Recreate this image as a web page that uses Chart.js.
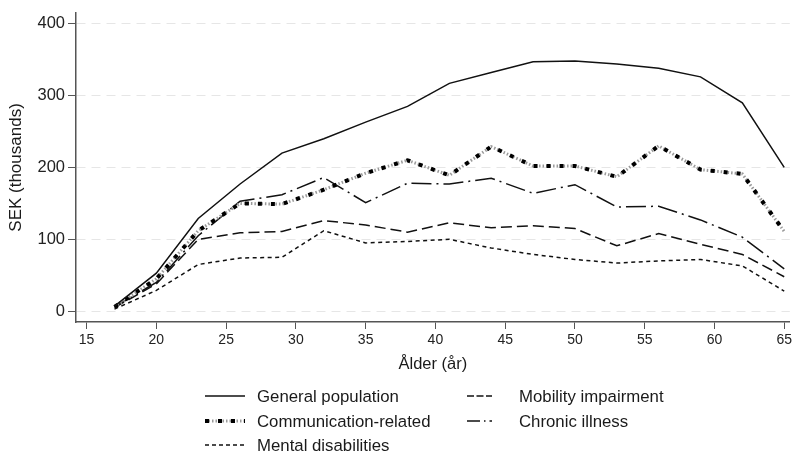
<!DOCTYPE html>
<html>
<head>
<meta charset="utf-8">
<script src="https://cdn.jsdelivr.net/npm/chart.js@4/dist/chart.umd.min.js"></script>
<style>
  html, body { margin: 0; padding: 0; background: #fff; }
  #wrap { width: 795px; height: 458px; }
</style>
</head>
<body>
<div id="wrap"><canvas id="incomeChart"></canvas></div>
<script>
const ages = [17, 20, 23, 26, 29, 32, 35, 38, 41, 44, 47, 50, 53, 56, 59, 62, 65];
const generalPopulation = [7, 53, 129, 177, 220, 240, 263, 285, 317, 332, 347, 348, 344, 338, 326, 290, 200];
const communicationRelated = [6, 45, 112, 150, 149, 169, 192, 210, 189, 229, 202, 202, 187, 230, 197, 191, 111];
const mentalDisabilities = [3, 29, 65, 74, 75, 112, 95, 97, 100, 88, 79, 72, 67, 70, 72, 63, 28];
const mobilityImpairment = [5, 38, 100, 109, 111, 126, 120, 110, 123, 116, 119, 115, 91, 108, 93, 79, 48];
const chronicIllness = [6, 40, 105, 153, 162, 186, 151, 178, 177, 185, 164, 176, 145, 146, 127, 103, 59];
const xTicks = [15, 20, 25, 30, 35, 40, 45, 50, 55, 60, 65];
const yTicks = [0, 100, 200, 300, 400];

const FONT = "'Liberation Sans', Arial, sans-serif";
const toPoints = vals => vals.map((v, i) => ({ x: ages[i], y: v }));

// legend in two columns, drawn by hand (col, row) per dataset
const legendSlots = [[0, 0], [0, 1], [0, 2], [1, 0], [1, 1]];
const legendDash = [[], [4, 9], [4, 3], [7, 2.5], [13, 4, 1.5, 4]];

// gray dotted underlay for the communication series, then the custom legend
const stylePlugin = {
    id: 'stataStyle',
    beforeDatasetDraw(chart, args) {
        if (args.index !== 1) return;
        const pts = chart.getDatasetMeta(1).data;
        const ctx = chart.ctx;
        ctx.save();
        ctx.strokeStyle = '#9a9a9a';
        ctx.lineWidth = 3;
        ctx.setLineDash([1.5, 2]);
        ctx.beginPath();
        pts.forEach((p, i) => i ? ctx.lineTo(p.x, p.y) : ctx.moveTo(p.x, p.y));
        ctx.stroke();
        ctx.restore();
    },
    afterDraw(chart) {
        const ctx = chart.ctx;
        const colX = [[205, 245, 257], [467, 492, 519]];
        const rowY = [396, 421, 445];
        ctx.save();
        chart.data.datasets.forEach((ds, i) => {
            const [c, r] = legendSlots[i];
            const [x0, x1, tx] = colX[c];
            const y = rowY[r];
            if (i === 1) {
                ctx.strokeStyle = '#9a9a9a';
                ctx.lineWidth = 3;
                ctx.setLineDash([1.5, 2]);
                ctx.beginPath(); ctx.moveTo(x0, y); ctx.lineTo(x1, y); ctx.stroke();
            }
            ctx.strokeStyle = ds.borderColor;
            ctx.lineWidth = ds.borderWidth;
            ctx.setLineDash(legendDash[i]);
            ctx.beginPath(); ctx.moveTo(x0, y); ctx.lineTo(x1, y); ctx.stroke();
            ctx.setLineDash([]);
            ctx.fillStyle = '#1a1a1a';
            ctx.font = '16.8px ' + FONT;
            ctx.textBaseline = 'middle';
            ctx.textAlign = 'left';
            ctx.fillText(ds.label, tx, y + 1);
        });
        ctx.restore();
    }
};

const ctx = document.getElementById('incomeChart').getContext('2d');
const chart = new Chart(ctx, {
    type: 'line',
    data: {
        datasets: [
            { label: 'General population', data: toPoints(generalPopulation), borderColor: '#111', borderWidth: 1.5, borderDash: [] },
            { label: 'Communication-related', data: toPoints(communicationRelated), borderColor: '#000', borderWidth: 4, borderDash: [4, 9] },
            { label: 'Mental disabilities', data: toPoints(mentalDisabilities), borderColor: '#111', borderWidth: 1.5, borderDash: [4, 3.5] },
            { label: 'Mobility impairment', data: toPoints(mobilityImpairment), borderColor: '#111', borderWidth: 1.5, borderDash: [11, 5] },
            { label: 'Chronic illness', data: toPoints(chronicIllness), borderColor: '#111', borderWidth: 1.5, borderDash: [20, 5, 2, 5] }
        ]
    },
    options: {
        responsive: true,
        maintainAspectRatio: false,
        animation: false,
        elements: { point: { radius: 0 }, line: { tension: 0 } },
        layout: { padding: { top: 2, bottom: 76, left: 0, right: 0 } },
        plugins: { legend: { display: false }, tooltip: { enabled: false } },
        scales: {
            x: {
                type: 'linear',
                min: 14.24,
                max: 65.4,
                afterBuildTicks: s => { s.ticks = xTicks.map(v => ({ value: v })); },
                afterFit: s => { s.height = 60; },
                grid: { drawOnChartArea: false, tickColor: '#555', tickLength: 7 },
                border: { color: '#555', width: 1.5 },
                ticks: { color: '#222', font: { family: FONT, size: 14 }, padding: 3, maxRotation: 0 },
                title: { display: true, text: 'Ålder (år)', color: '#1a1a1a', font: { family: FONT, size: 16.5 }, padding: { top: 0, bottom: 8 } }
            },
            y: {
                min: -15,
                max: 415,
                afterBuildTicks: s => { s.ticks = yTicks.map(v => ({ value: v })); },
                afterFit: s => { s.width = 76; },
                grid: { color: '#e6e6e6', tickColor: '#555', tickLength: 8, tickBorderDash: [] },
                border: { color: '#555', width: 1.5, dash: [9, 6] },
                ticks: { color: '#222', font: { family: FONT, size: 16.5 }, padding: 3 },
                title: { display: true, text: 'SEK (thousands)', color: '#1a1a1a', font: { family: FONT, size: 17 }, padding: { top: 6, bottom: 0 } }
            }
        }
    },
    plugins: [stylePlugin]
});
</script>
</body>
</html>
